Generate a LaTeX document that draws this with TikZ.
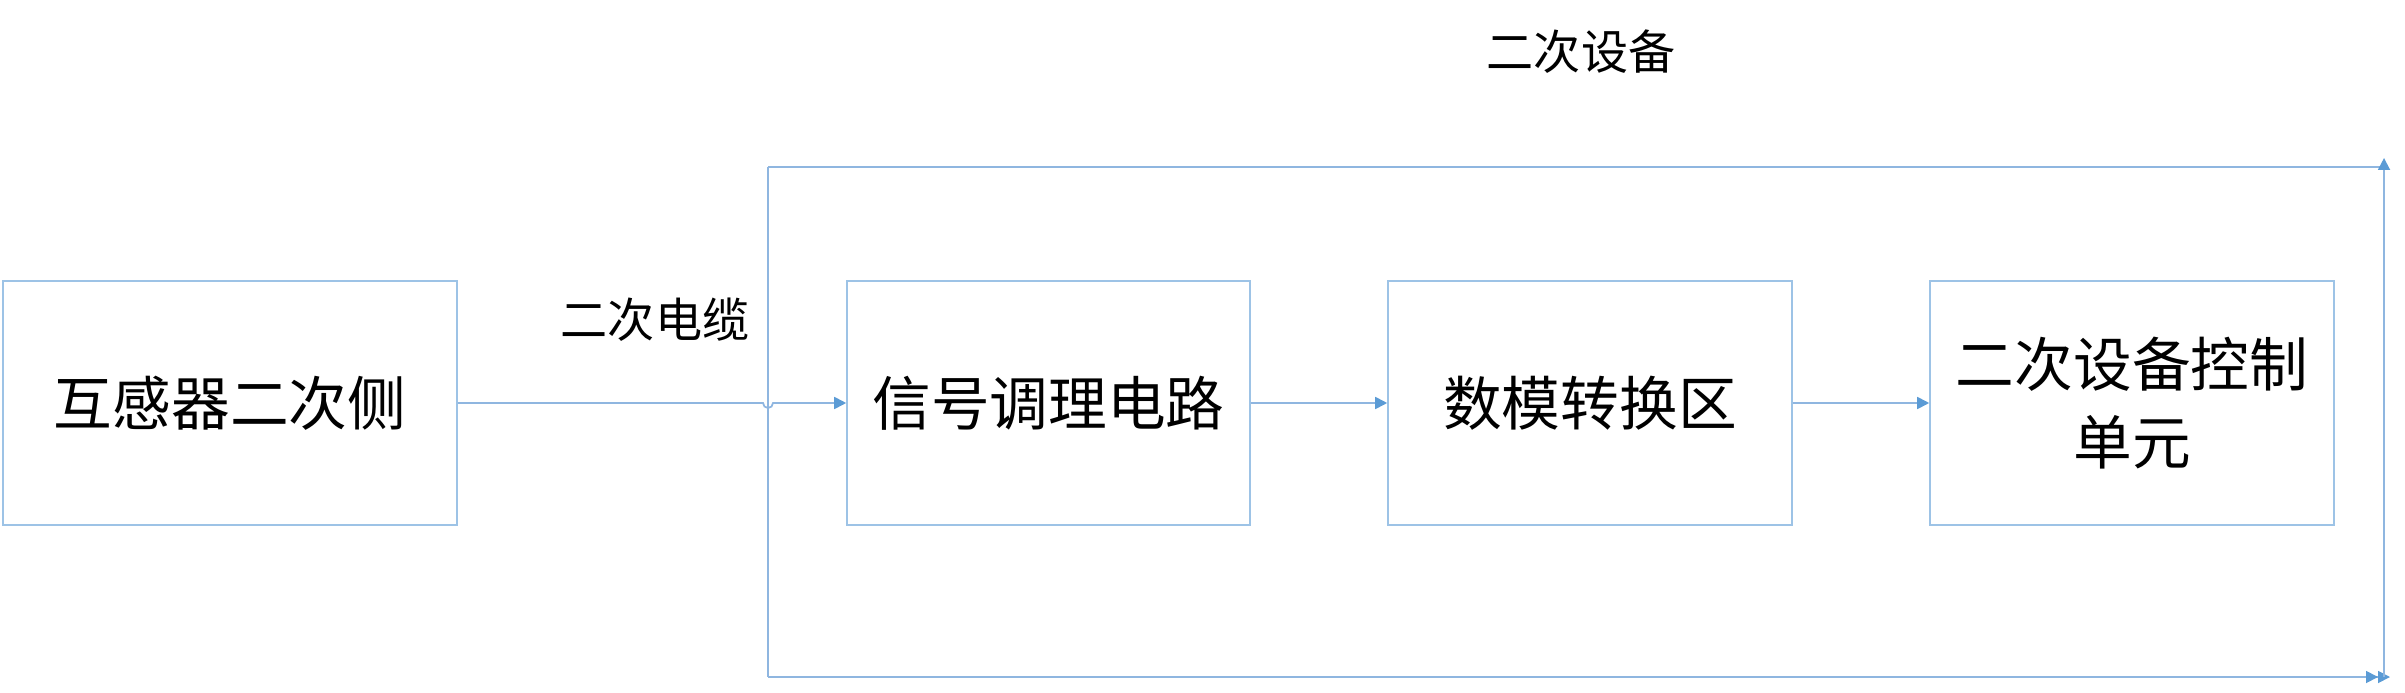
\documentclass[tikz,border=0pt]{standalone}
\usepackage{fontspec}
\newfontfamily\cjk{Noto Sans CJK SC}
\usetikzlibrary{
  positioning,
  arrows.meta
}
\definecolor{boxline}{HTML}{9DC3E6}
\definecolor{wire}{HTML}{8FB6E0}
\definecolor{tip}{HTML}{5B9BD5}

\begin{document}
\begin{tikzpicture}[x=1cm, y=-1cm,
  block/.style={draw=boxline, line width=0.45pt, minimum height=2.44cm, align=center, font=\cjk\fontsize{16.7}{22.4}\selectfont, inner sep=0pt},
  lbl/.style={font=\cjk\fontsize{13.4}{16}\selectfont, inner sep=0pt},
  wirearrow/.style={draw=wire, line width=0.5pt, -{Triangle[length=0.12cm, width=0.12cm, color=tip]}},
  wireline/.style={draw=wire, line width=0.5pt}
]
  \useasboundingbox (0,0) rectangle (24.05,6.93);

  \node[block, minimum width=4.54cm] (ct) at (2.30, 4.03) {互感器二次侧};
  \node[block, minimum width=4.03cm] (cond) at (10.485, 4.03) {信号调理电路};
  \node[block, minimum width=4.04cm] (adc) at (15.90, 4.03) {数模转换区};
  \node[block, minimum width=4.04cm] (ctrl) at (21.32, 4.03) {二次设备控制\\单元};

  \node[lbl] (cable) at (6.55, 3.20) {二次电缆};
  \node[lbl] (equip) at (15.81, 0.52) {二次设备};

  % frame of the secondary equipment
  \coordinate (tl) at (7.68, 1.67);
  \coordinate (bl) at (7.68, 6.77);
  \coordinate (tr) at (23.84, 1.67);
  \coordinate (br) at (23.84, 6.77);
  \draw[wireline] (tl) -- (bl);
  \draw[wireline] (tl) -- (tr);
  \draw[draw=wire, line width=0.5pt, shorten >=-0.06cm,
    -{Triangle[length=0.12cm, width=0.12cm, color=tip] Triangle[length=0.12cm, width=0.12cm, color=tip]}] (bl) -- (br);
  \draw[wirearrow, shorten >=-0.09cm] (br) -- (tr);

  % signal path
  \draw[wirearrow] (ct.east) -- (7.63, 4.03) arc[start angle=180, end angle=0, radius=0.05] -- (cond.west);
  \draw[wirearrow] (cond) -- (adc);
  \draw[wirearrow] (adc) -- (ctrl);
\end{tikzpicture}
\end{document}
